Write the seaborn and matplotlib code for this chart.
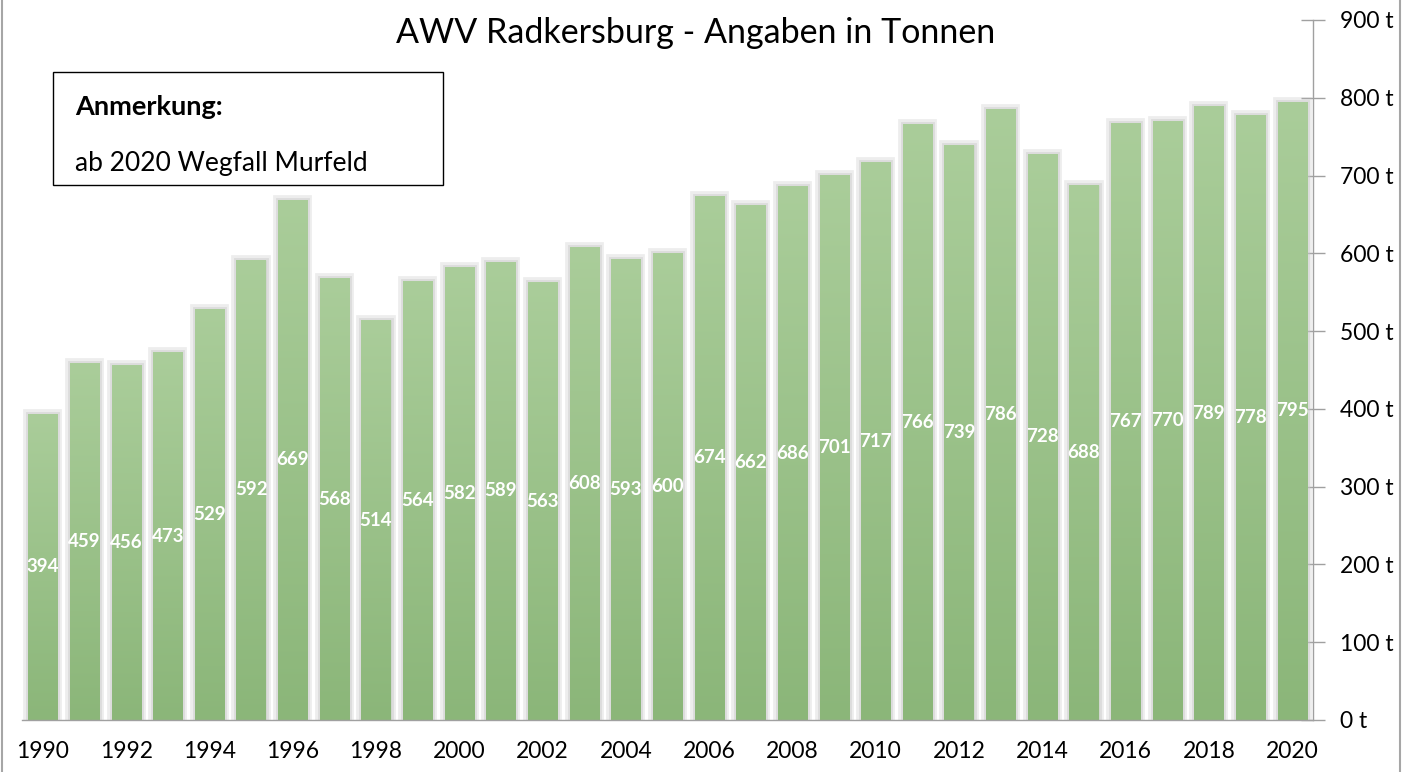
import numpy as np
import pandas as pd
import matplotlib
matplotlib.use("Agg")
import matplotlib.pyplot as plt
import matplotlib.patheffects as pe
from matplotlib.colors import LinearSegmentedColormap
from matplotlib.patches import Rectangle
import seaborn as sns

years = list(range(1990, 2021))
values = [394, 459, 456, 473, 529, 592, 669, 568, 514, 564, 582, 589, 563, 608, 593,
          600, 674, 662, 686, 701, 717, 766, 739, 786, 728, 688, 767, 770, 789, 778, 795]
y_ticks = [0, 100, 200, 300, 400, 500, 600, 700, 800, 900]
subtitle = "AWV Radkersburg - Angaben in Tonnen"
note_title = "Anmerkung:"
note_text = "ab 2020 Wegfall Murfeld"

sns.set_theme(style="white")
plt.rcParams['font.family'] = ['Lato', 'DejaVu Sans']
plt.rcParams['text.color'] = 'black'

df = pd.DataFrame({"Jahr": [str(y) for y in years], "Tonnen": values})

fig = plt.figure(figsize=(14.13, 7.72), dpi=100)
ax = fig.add_axes([22/1413, 1-720/772, (1313-22)/1413, 700/772])

sns.barplot(data=df, x="Jahr", y="Tonnen", ax=ax, color="#9dc28b", width=0.7,
            saturation=1, edgecolor="none")

cmap = LinearSegmentedColormap.from_list("g", ["#8bb679", "#aacd9a"])
grad = np.linspace(0, 1, 256).reshape(-1, 1)
for p in ax.patches:
    p.set_path_effects([pe.Stroke(linewidth=7, foreground="#b8b8b8", alpha=0.25),
                        pe.Stroke(linewidth=3.5, foreground="#c8c8c8", alpha=0.45),
                        pe.Normal()])
    x0, y0 = p.get_x(), p.get_y()
    w, h = p.get_width(), p.get_height()
    im = ax.imshow(grad, cmap=cmap, extent=[x0, x0 + w, y0, y0 + h], origin="lower",
                   aspect="auto", zorder=p.get_zorder() + 0.1)
    im.set_clip_path(p)
    ax.text(x0 + w/2, y0 + h/2, f"{int(round(h))}", ha="center", va="center",
            color="white", fontsize=13.5, fontweight="bold", zorder=5)

ax.set_xlim(-0.5, len(years) - 0.5)
ax.set_ylim(0, 900)
ax.set_xlabel("")
ax.set_ylabel("")

# x axis
ax.set_xticks(range(0, len(years), 2))
ax.set_xticklabels([str(years[i]) for i in range(0, len(years), 2)], fontsize=16.5, color="black")
ax.set_xticks(np.arange(-0.5, len(years), 1), minor=True)
ax.tick_params(axis="x", which="major", length=0, pad=15)
ax.tick_params(axis="x", which="minor", direction="inout", length=16, width=1, color="#a0a0a0")

# y axis on the right
ax.yaxis.tick_right()
ax.set_yticks(y_ticks)
ax.set_yticklabels([f"{v} t" for v in y_ticks], fontsize=16.5, color="black")
ax.tick_params(axis="y", which="major", direction="inout", length=17, width=1,
               color="#a0a0a0", pad=11, right=True, left=False)

for s in ["top", "left"]:
    ax.spines[s].set_visible(False)
for s in ["bottom", "right"]:
    ax.spines[s].set_visible(True)
    ax.spines[s].set_color("#a0a0a0")
    ax.spines[s].set_linewidth(1)

fig.text(696/1413, 1-33/772, subtitle, ha="center", va="center", fontsize=24.5, color="black")

# note box
fig.patches.append(Rectangle((53/1413, 1-185/772), (443-53)/1413, (185-72)/772,
                             transform=fig.transFigure, facecolor="white",
                             edgecolor="black", linewidth=1, zorder=10))
fig.text(75/1413, 1-107/772, note_title, ha="left", va="center", fontsize=19.5,
         fontweight="bold", color="black", zorder=11)
fig.text(75/1413, 1-163/772, note_text, ha="left", va="center", fontsize=19,
         color="black", zorder=11)

# outer border of chart area
fig.patches.append(Rectangle((2/1413, -0.05), (1400-2)/1413, 1.1, transform=fig.transFigure,
                             facecolor="none", edgecolor="#a6a6a6", linewidth=1.5, zorder=20))

fig.savefig("out.png", dpi=100)
